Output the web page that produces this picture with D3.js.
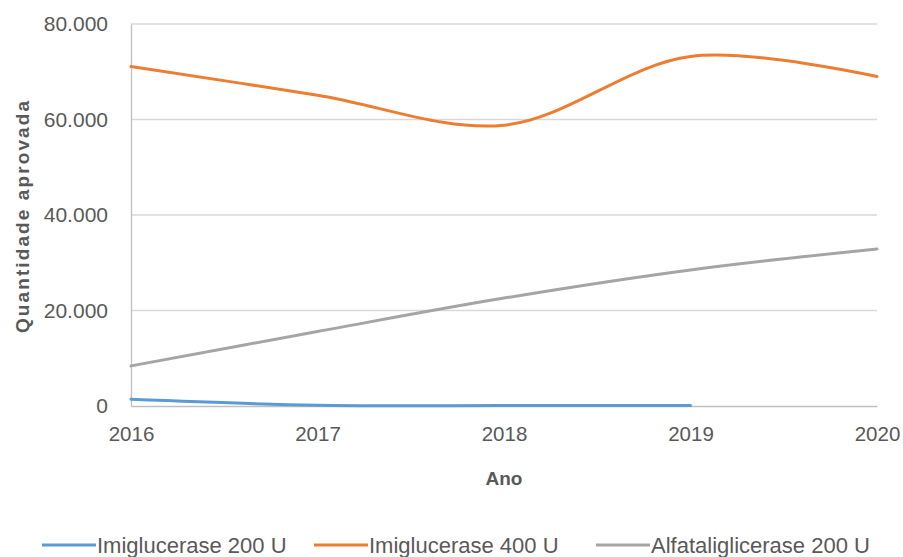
<!DOCTYPE html>
<html>
<head>
<meta charset="utf-8">
<script src="https://cdn.jsdelivr.net/npm/d3@7"></script>
<style>
  body { margin: 0; background: #fff; }
  text { font-family: "Liberation Sans", Arial, sans-serif; }
</style>
</head>
<body>
<div id="chart"></div>
<script>
// chart data
const years = [2016, 2017, 2018, 2019, 2020];
const imiglucerase200 = [1400, 150, 100, 100];
const imiglucerase400 = [71100, 65100, 58800, 73200, 69000];
const alfataliglicerase200 = [8400, 15600, 22600, 28500, 32900];
const yTicks = [0, 20000, 40000, 60000, 80000];
const seriesNames = ["Imiglucerase 200 U", "Imiglucerase 400 U", "Alfataliglicerase 200 U"];
const seriesColors = ["#5b9bd5", "#ed7d31", "#a5a5a5"];

const width = 903;
const height = 557;
const marginTop = 24;
const marginRight = 26;
const marginBottom = 151;
const marginLeft = 131;

const x = d3.scaleLinear()
    .domain([years[0], years[years.length - 1]])
    .range([marginLeft, width - marginRight]);

const y = d3.scaleLinear()
    .domain([0, 80000])
    .range([height - marginBottom, marginTop]);

const svg = d3.select("#chart")
    .append("svg")
    .attr("width", width)
    .attr("height", height)
    .attr("viewBox", [0, 0, width, height]);

// Gridlines
svg.append("g")
    .selectAll("line")
    .data(yTicks.slice(1))
    .join("line")
    .attr("x1", marginLeft)
    .attr("x2", width - marginRight)
    .attr("y1", d => y(d))
    .attr("y2", d => y(d))
    .attr("stroke", "#d9d9d9")
    .attr("stroke-width", 1.3);

// Axes
const fmt = d => d === 0 ? "0" : d3.format(",")(d).replace(/,/g, ".");

svg.append("g")
    .attr("transform", `translate(${marginLeft},0)`)
    .call(d3.axisLeft(y).tickValues(yTicks).tickFormat(fmt).tickSize(0).tickPadding(23))
    .call(g => g.select(".domain").attr("stroke", "#bfbfbf").attr("stroke-width", 1.3))
    .call(g => g.selectAll(".tick text")
        .attr("fill", "#595959")
        .attr("font-size", 21)
        .attr("font-family", "Liberation Sans, Arial, sans-serif"));

svg.append("g")
    .attr("transform", `translate(0,${height - marginBottom})`)
    .call(d3.axisBottom(x).tickValues(years).tickFormat(d3.format("d")).tickSize(0).tickPadding(20))
    .call(g => g.select(".domain").attr("stroke", "#bfbfbf").attr("stroke-width", 1.3))
    .call(g => g.selectAll(".tick text")
        .attr("fill", "#595959")
        .attr("font-size", 20.5)
        .attr("font-family", "Liberation Sans, Arial, sans-serif"));

// Axis titles
svg.append("text")
    .attr("x", x(2018))
    .attr("y", 485)
    .attr("text-anchor", "middle")
    .attr("font-size", 19)
    .attr("font-weight", "bold")
    .attr("fill", "#595959")
    .text("Ano");

svg.append("text")
    .attr("transform", `translate(29,${(y(0) + y(80000)) / 2 + 1}) rotate(-90)`)
    .attr("text-anchor", "middle")
    .attr("font-size", 19)
    .attr("font-weight", "bold")
    .attr("letter-spacing", 2.1)
    .attr("fill", "#595959")
    .text("Quantidade aprovada");

// Lines
const seriesData = [imiglucerase200, imiglucerase400, alfataliglicerase200];

const line = d3.line()
    .x((d, i) => x(years[i]))
    .y(d => y(d))
    .curve(d3.curveCatmullRom.alpha(0.5));

svg.append("g")
    .selectAll("path")
    .data(seriesData)
    .join("path")
    .attr("d", d => line(d))
    .attr("fill", "none")
    .attr("stroke", (d, i) => seriesColors[i])
    .attr("stroke-width", 3)
    .attr("stroke-linecap", "round");

// Legend
const legendX = [42, 314, 596];
const legend = svg.append("g")
    .attr("class", "legend")
    .selectAll("g")
    .data(seriesNames)
    .join("g")
    .attr("transform", (d, i) => `translate(${legendX[i]},545)`);

legend.append("line")
    .attr("x1", 0)
    .attr("x2", 54)
    .attr("stroke", (d, i) => seriesColors[i])
    .attr("stroke-width", 3);

legend.append("text")
    .attr("x", 55)
    .attr("y", 8)
    .attr("font-size", 22)
    .attr("fill", "#595959")
    .text(d => d);
</script>
</body>
</html>
